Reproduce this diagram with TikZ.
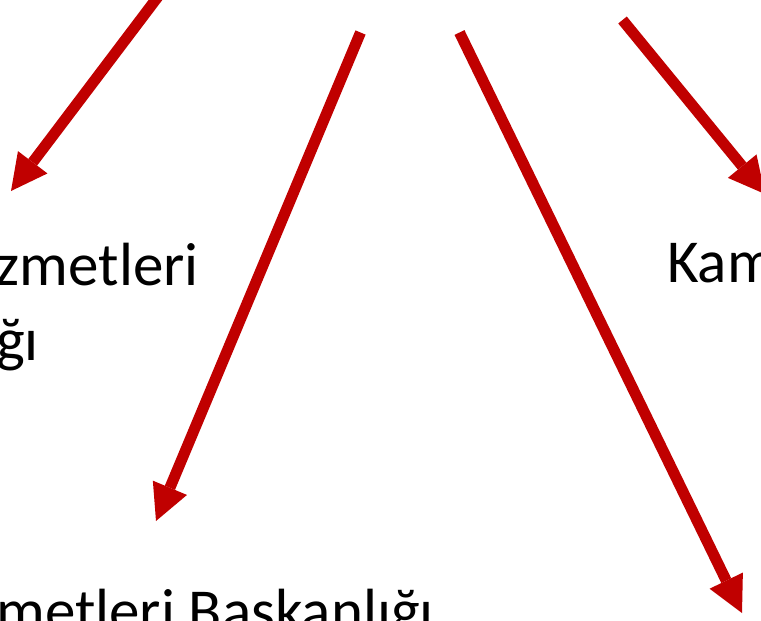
\documentclass[tikz,border=0pt]{standalone}
\usepackage{fontspec}
\setmainfont{Carlito}
\usetikzlibrary{arrows.meta}
\definecolor{arrowred}{HTML}{C00000}
\begin{document}
\begin{tikzpicture}[x=1pt,y=-1pt,
  redarrow/.style={draw=arrowred, line width=11pt,
    -{Triangle[length=36pt,width=37pt,line width=0pt]}},
  label/.style={inner sep=0pt, font=\fontsize{61}{74}\selectfont, text=black}]
\useasboundingbox (0,0) rectangle (761,621);
\clip (0,0) rectangle (761,621);
% texts
\node[label, anchor=base east] (t1) at (199,285) {zmetleri};
\node[label, anchor=base east] (t2) at (39,360) {ğı};
\node[label, anchor=base west] (t3) at (667,282) {Kam};
\node[label, anchor=base east] (t4) at (434,631) {metleri Başkanlığı};
% arrow end points
\coordinate (s1) at (163,-10);
\coordinate (e1) at (11,191);
\coordinate (s2) at (360.5,32.5);
\coordinate (e2) at (156,521);
\coordinate (s3) at (459.5,32.5);
\coordinate (e3) at (742,613);
\coordinate (s4) at (622.5,20);
\coordinate (e4) at (765,194);
\draw[redarrow] (s1) -- (e1);
\draw[redarrow] (s2) -- (e2);
\draw[redarrow] (s3) -- (e3);
\draw[redarrow] (s4) -- (e4);
\end{tikzpicture}
\end{document}
